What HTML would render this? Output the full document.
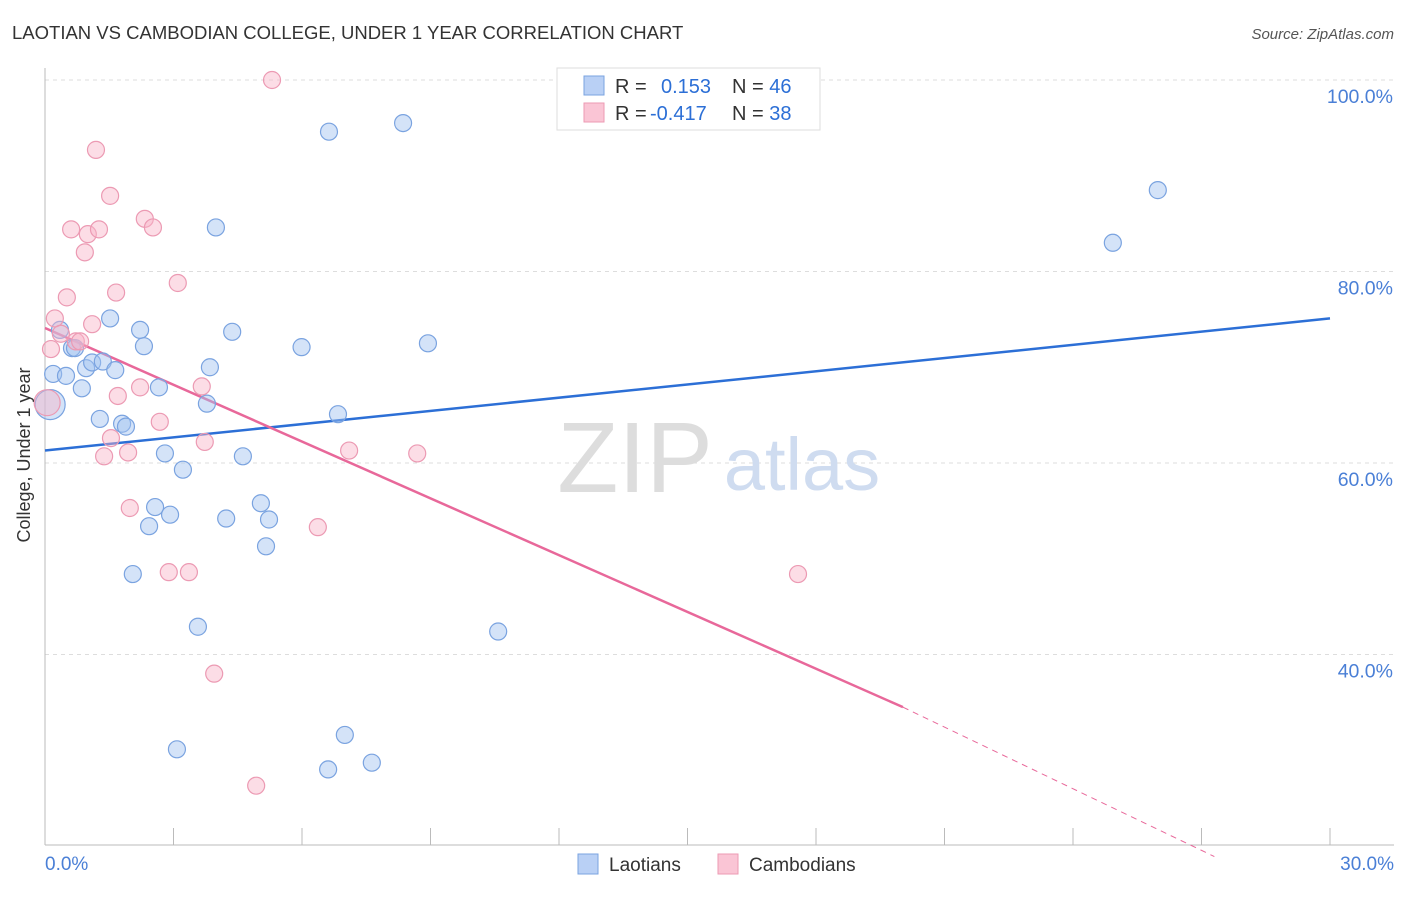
<!DOCTYPE html>
<html><head><meta charset="utf-8"><style>
body{margin:0;background:#fff;font-family:"Liberation Sans",sans-serif}
svg text{font-family:"Liberation Sans",sans-serif}
</style></head><body>
<svg id="chart" width="1406" height="892">
<text x="12" y="39" font-size="18.5" fill="#333">LAOTIAN VS CAMBODIAN COLLEGE, UNDER 1 YEAR CORRELATION CHART</text>
<text x="1394" y="39" font-size="15" fill="#555" text-anchor="end" font-style="italic">Source: ZipAtlas.com</text>
<g id="grid"></g>
<text x="635" y="492" font-size="100" fill="#ddd" text-anchor="middle" font-family="Liberation Serif">ZIP</text>
<text x="802" y="490" font-size="74" fill="#cfdcf0" text-anchor="middle">atlas</text>
<g id="axes"></g>
<g id="lines"></g>
<g id="pts"></g>
<text x="30" y="455" font-size="18" fill="#333" text-anchor="middle" transform="rotate(-90 30 455)">College, Under 1 year</text>
<g>
<rect x="557" y="68" width="263" height="62" fill="#fff" stroke="#ddd"/>
<rect x="584" y="76" width="20" height="19" fill="#b9d0f5" stroke="#7aa3e0"/>
<rect x="584" y="103" width="20" height="19" fill="#fac5d5" stroke="#ec9ab3"/>
<text x="615" y="93" font-size="20" fill="#333">R = <tspan fill="#2c6fd6" x="661">0.153</tspan><tspan x="732" fill="#333">N = </tspan><tspan fill="#2c6fd6">46</tspan></text>
<text x="615" y="120" font-size="20" fill="#333">R = <tspan fill="#2c6fd6" x="650">-0.417</tspan><tspan x="732" fill="#333">N = </tspan><tspan fill="#2c6fd6">38</tspan></text>
</g>
<g>
<rect x="578" y="854" width="20" height="20" fill="#b9d0f5" stroke="#7aa3e0"/>
<text x="609" y="871" font-size="19" fill="#333">Laotians</text>
<rect x="718" y="854" width="20" height="20" fill="#fac5d5" stroke="#ec9ab3"/>
<text x="749" y="871" font-size="19" fill="#333">Cambodians</text>
</g>
</svg>
<script>
const yTicks=[40,60,80,100];
const yTickLabels=["40.0%","60.0%","80.0%","100.0%"];
const xTickLabels=["0.0%","30.0%"];
const laoX=[0.12,0.19,0.35,0.49,0.63,0.7,0.86,0.96,1.1,1.28,1.35,1.52,1.64,1.8,1.89,2.05,2.22,2.31,2.57,2.43,2.66,2.8,2.92,3.08,3.22,3.57,3.78,3.85,3.99,4.23,4.37,4.62,5.04,5.16,5.23,5.99,6.63,6.61,6.84,7.0,7.63,8.36,8.94,10.58,24.93,25.98];
const laoY=[66.1,69.3,73.9,69.1,72.0,72.0,67.8,69.9,70.5,64.6,70.6,75.1,69.7,64.1,63.8,48.4,73.9,72.2,55.4,53.4,67.9,61.0,54.6,30.1,59.3,42.9,66.2,70.0,84.6,54.2,73.7,60.7,55.8,51.3,54.1,72.1,94.6,28.0,65.1,31.6,28.7,95.5,72.5,42.4,83.0,88.5];
const camX=[0.05,0.14,0.23,0.37,0.51,0.61,0.72,0.82,0.93,1.0,1.1,1.19,1.26,1.38,1.52,1.54,1.66,1.7,1.94,1.98,2.22,2.33,2.52,2.68,2.89,3.1,3.36,3.66,3.73,3.95,4.93,5.3,6.37,7.1,8.69,17.58];
const camY=[66.3,71.9,75.1,73.5,77.3,84.4,72.7,72.7,82.0,83.9,74.5,92.7,84.4,60.7,87.9,62.6,77.8,67.0,61.1,55.3,67.9,85.5,84.6,64.3,48.6,78.8,48.6,68.0,62.2,38.0,26.3,100.0,53.3,61.3,61.0,48.4];
const laoTrend=[[0,61.3],[30,75.1]];
const camTrend=[[0,74.1],[20.03,34.5],[27.3,18.9]];
const X0=45,X1=1330,YT=80,YB=654.5;
const xs=v=>X0+v/30*(X1-X0);
const ys=v=>YT+(100-v)/60*(YB-YT);
const NS="http://www.w3.org/2000/svg";
function mk(p,t,a){const e=document.createElementNS(NS,t);for(const k in a)e.setAttribute(k,a[k]);document.getElementById(p).appendChild(e);return e;}
yTicks.forEach((t,i)=>{
 const l=mk('grid','line',{x1:45,x2:1394,y1:ys(t),y2:ys(t),stroke:'#ddd','stroke-dasharray':'4,4'});
 
 
 const tx=mk('grid','text',{x:1393,y:ys(t)+23,'font-size':19.5,fill:'#4a7fd6','text-anchor':'end'});
 tx.textContent=yTickLabels[i];
 
 
});
mk('axes','line',{x1:45,x2:45,y1:68,y2:845,stroke:'#bbb'});
mk('axes','line',{x1:45,x2:1394,y1:845,y2:845,stroke:'#bbb'});
for(let i=0;i<=10;i++){const x=xs(i*3);const t=mk('axes','line',{x1:x,x2:x,y1:828,y2:845,stroke:'#bbb'});
 
 }
[[0,'start',45],[1,'end',1394]].forEach(([i,a,x])=>{const t=mk('axes','text',{x:x,y:870,'font-size':19,fill:'#4a7fd6','text-anchor':a});t.textContent=xTickLabels[i];
 
 });
const lb=mk('lines','line',{x1:xs(laoTrend[0][0]),y1:ys(laoTrend[0][1]),x2:xs(laoTrend[1][0]),y2:ys(laoTrend[1][1]),stroke:'#2c6fd6','stroke-width':2.5});


const lp=mk('lines','line',{x1:xs(camTrend[0][0]),y1:ys(camTrend[0][1]),x2:xs(camTrend[1][0]),y2:ys(camTrend[1][1]),stroke:'#e8689a','stroke-width':2.5});


const ld=mk('lines','line',{x1:xs(camTrend[1][0]),y1:ys(camTrend[1][1]),x2:xs(camTrend[2][0]),y2:ys(camTrend[2][1]),stroke:'#e8689a','stroke-width':1,'stroke-dasharray':'6,5'});


laoX.forEach((x,i)=>{const c=mk('pts','circle',{cx:xs(x),cy:ys(laoY[i]),r:i==0?15:8.5,fill:'rgba(160,192,240,0.45)',stroke:'#7aa3e0','stroke-width':1.2});
 
 });
camX.forEach((x,i)=>{const c=mk('pts','circle',{cx:xs(x),cy:ys(camY[i]),r:i==0?13:8.5,fill:'rgba(248,180,200,0.45)',stroke:'#ec9ab3','stroke-width':1.2});
 
 });
</script>
</body></html>
